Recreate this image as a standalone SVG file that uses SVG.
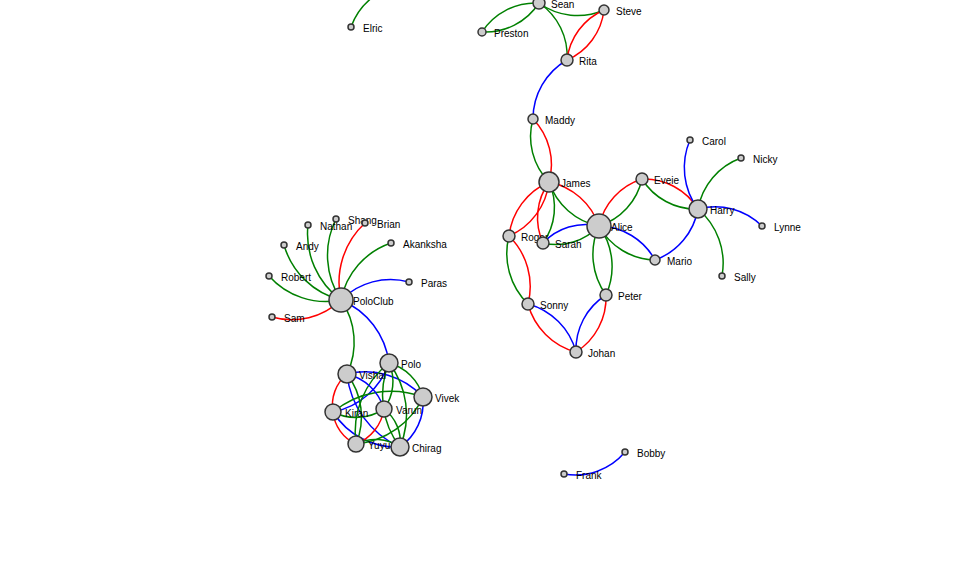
<svg xmlns="http://www.w3.org/2000/svg" width="962" height="583" viewBox="0 0 962 583">
<style>
.l{fill:none;stroke-width:1.5}
.g{stroke:green}.r{stroke:red}.b{stroke:blue}
.n circle{fill:#ccc;stroke:#333;stroke-width:1.5}
.n text{font-family:"Liberation Sans",Arial,sans-serif;font-size:10px;fill:#000}
</style>
<rect width="962" height="583" fill="#fff"/>
<g id="links">
<path class="l g" d="M351,27A64.5,64.5 0 0,1 400,-15"/>
<path class="l g" d="M482,32A64,64 0 0,1 539,3"/>
<path class="l g" d="M539,3A64,64 0 0,1 482,32"/>
<path class="l g" d="M604,10A65.4,65.4 0 0,1 539,3"/>
<path class="l g" d="M539,3A63.5,63.5 0 0,1 567,60"/>
<path class="l r" d="M604,10A62.2,62.2 0 0,1 567,60"/>
<path class="l r" d="M567,60A62.2,62.2 0 0,1 604,10"/>
<path class="l b" d="M533,119A68.1,68.1 0 0,1 567,60"/>
<path class="l g" d="M549,182A65,65 0 0,1 533,119"/>
<path class="l r" d="M533,119A65,65 0 0,1 549,182"/>
<path class="l r" d="M549,182A66.6,66.6 0 0,1 599,226"/>
<path class="l g" d="M599,226A66.6,66.6 0 0,1 549,182"/>
<path class="l r" d="M509,236A67.2,67.2 0 0,1 549,182"/>
<path class="l r" d="M549,182A67.2,67.2 0 0,1 509,236"/>
<path class="l r" d="M543,243A61.3,61.3 0 0,1 549,182"/>
<path class="l g" d="M549,182A61.3,61.3 0 0,1 543,243"/>
<path class="l b" d="M543,243A58.5,58.5 0 0,1 599,226"/>
<path class="l g" d="M599,226A58.5,58.5 0 0,1 543,243"/>
<path class="l r" d="M599,226A63.7,63.7 0 0,1 642,179"/>
<path class="l g" d="M642,179A63.7,63.7 0 0,1 599,226"/>
<path class="l r" d="M642,179A63.5,63.5 0 0,1 698,209"/>
<path class="l g" d="M698,209A63.5,63.5 0 0,1 642,179"/>
<path class="l b" d="M599,226A65.5,65.5 0 0,1 655,260"/>
<path class="l g" d="M655,260A65.5,65.5 0 0,1 599,226"/>
<path class="l b" d="M698,209A66.7,66.7 0 0,1 655,260"/>
<path class="l g" d="M599,226A69.4,69.4 0 0,1 606,295"/>
<path class="l g" d="M606,295A69.4,69.4 0 0,1 599,226"/>
<path class="l b" d="M576,352A64.4,64.4 0 0,1 606,295"/>
<path class="l r" d="M606,295A64.4,64.4 0 0,1 576,352"/>
<path class="l b" d="M528,304A67.9,67.9 0 0,1 576,352"/>
<path class="l r" d="M576,352A67.9,67.9 0 0,1 528,304"/>
<path class="l g" d="M528,304A70.6,70.6 0 0,1 509,236"/>
<path class="l r" d="M509,236A70.6,70.6 0 0,1 528,304"/>
<path class="l b" d="M698,209A69.5,69.5 0 0,1 690,140"/>
<path class="l g" d="M698,209A66.7,66.7 0 0,1 741,158"/>
<path class="l b" d="M698,209A66.2,66.2 0 0,1 762,226"/>
<path class="l g" d="M698,209A71.2,71.2 0 0,1 722,276"/>
<path class="l b" d="M625,452A64.8,64.8 0 0,1 564,474"/>
<path class="l r" d="M341,300A71.1,71.1 0 0,1 272,317"/>
<path class="l g" d="M341,300A75.9,75.9 0 0,1 269,276"/>
<path class="l g" d="M341,300A79.2,79.2 0 0,1 284,245"/>
<path class="l g" d="M341,300A81.9,81.9 0 0,1 308,225"/>
<path class="l g" d="M341,300A81.2,81.2 0 0,1 336,219"/>
<path class="l r" d="M341,300A80.7,80.7 0 0,1 365,223"/>
<path class="l g" d="M341,300A75.8,75.8 0 0,1 391,243"/>
<path class="l b" d="M341,300A70.3,70.3 0 0,1 409,282"/>
<path class="l g" d="M341,300A74.2,74.2 0 0,1 347,374"/>
<path class="l b" d="M341,300A79.2,79.2 0 0,1 389,363"/>
<path class="l r" d="M333,412A40.5,40.5 0 0,1 347,374"/>
<path class="l r" d="M356,444A39.4,39.4 0 0,1 333,412"/>
<path class="l b" d="M347,374A79.4,79.4 0 0,1 423,397"/>
<path class="l b" d="M400,447A90.2,90.2 0 0,1 347,374"/>
<path class="l b" d="M389,363A74.4,74.4 0 0,1 333,412"/>
<path class="l b" d="M400,447A75.6,75.6 0 0,1 333,412"/>
<path class="l b" d="M423,397A55,55 0 0,1 400,447"/>
<path class="l g" d="M389,363A48.1,48.1 0 0,1 423,397"/>
<path class="l g" d="M389,363A84.7,84.7 0 0,1 400,447"/>
<path class="l g" d="M400,447A84.7,84.7 0 0,1 389,363"/>
<path class="l g" d="M389,363A46.3,46.3 0 0,1 384,409"/>
<path class="l g" d="M356,444A87.5,87.5 0 0,1 389,363"/>
<path class="l g" d="M347,374A70.6,70.6 0 0,1 356,444"/>
<path class="l g" d="M384,409A51.1,51.1 0 0,1 333,412"/>
<path class="l g" d="M333,412A91.2,91.2 0 0,1 423,397"/>
<path class="l g" d="M384,409A41.2,41.2 0 0,1 400,447"/>
<path class="l r" d="M384,409A44.8,44.8 0 0,1 356,444"/>
<path class="l g" d="M356,444A44.1,44.1 0 0,1 400,447"/>
<path class="l b" d="M347,374A50.9,50.9 0 0,1 384,409"/>
<path class="l g" d="M423,397A81.8,81.8 0 0,1 356,444"/>
</g>
<g id="nodes">
<g class="n" id="n-elric"><circle cx="351" cy="27" r="3"/><text x="363" y="31.5">Elric</text></g>
<g class="n" id="n-sean"><circle cx="539" cy="3" r="6"/><text x="551" y="7.5">Sean</text></g>
<g class="n" id="n-steve"><circle cx="604" cy="10" r="5"/><text x="616" y="14.5">Steve</text></g>
<g class="n" id="n-preston"><circle cx="482" cy="32" r="4"/><text x="494" y="36.5">Preston</text></g>
<g class="n" id="n-rita"><circle cx="567" cy="60" r="6"/><text x="579" y="64.5">Rita</text></g>
<g class="n" id="n-maddy"><circle cx="533" cy="119" r="5"/><text x="545" y="123.5">Maddy</text></g>
<g class="n" id="n-james"><circle cx="549" cy="182" r="10"/><text x="561" y="186.5">James</text></g>
<g class="n" id="n-roger"><circle cx="509" cy="236" r="6"/><text x="521" y="240.5">Roger</text></g>
<g class="n" id="n-sarah"><circle cx="543" cy="243" r="6"/><text x="555" y="247.5">Sarah</text></g>
<g class="n" id="n-alice"><circle cx="599" cy="226" r="12"/><text x="611" y="230.5">Alice</text></g>
<g class="n" id="n-eveie"><circle cx="642" cy="179" r="6"/><text x="654" y="183.5">Eveie</text></g>
<g class="n" id="n-harry"><circle cx="698" cy="209" r="9"/><text x="710" y="213.5">Harry</text></g>
<g class="n" id="n-mario"><circle cx="655" cy="260" r="5"/><text x="667" y="264.5">Mario</text></g>
<g class="n" id="n-peter"><circle cx="606" cy="295" r="6"/><text x="618" y="299.5">Peter</text></g>
<g class="n" id="n-sonny"><circle cx="528" cy="304" r="6"/><text x="540" y="308.5">Sonny</text></g>
<g class="n" id="n-johan"><circle cx="576" cy="352" r="6"/><text x="588" y="356.5">Johan</text></g>
<g class="n" id="n-carol"><circle cx="690" cy="140" r="3"/><text x="702" y="144.5">Carol</text></g>
<g class="n" id="n-nicky"><circle cx="741" cy="158" r="3"/><text x="753" y="162.5">Nicky</text></g>
<g class="n" id="n-lynne"><circle cx="762" cy="226" r="3"/><text x="774" y="230.5">Lynne</text></g>
<g class="n" id="n-sally"><circle cx="722" cy="276" r="3"/><text x="734" y="280.5">Sally</text></g>
<g class="n" id="n-bobby"><circle cx="625" cy="452" r="3"/><text x="637" y="456.5">Bobby</text></g>
<g class="n" id="n-frank"><circle cx="564" cy="474" r="3"/><text x="576" y="478.5">Frank</text></g>
<g class="n" id="n-sam"><circle cx="272" cy="317" r="3"/><text x="284" y="321.5">Sam</text></g>
<g class="n" id="n-robert"><circle cx="269" cy="276" r="3"/><text x="281" y="280.5">Robert</text></g>
<g class="n" id="n-andy"><circle cx="284" cy="245" r="3"/><text x="296" y="249.5">Andy</text></g>
<g class="n" id="n-nathan"><circle cx="308" cy="225" r="3"/><text x="320" y="229.5">Nathan</text></g>
<g class="n" id="n-shang"><circle cx="336" cy="219" r="3"/><text x="348" y="223.5">Shang</text></g>
<g class="n" id="n-brian"><circle cx="365" cy="223" r="3"/><text x="377" y="227.5">Brian</text></g>
<g class="n" id="n-akanksha"><circle cx="391" cy="243" r="3"/><text x="403" y="247.5">Akanksha</text></g>
<g class="n" id="n-paras"><circle cx="409" cy="282" r="3"/><text x="421" y="286.5">Paras</text></g>
<g class="n" id="n-poloclub"><circle cx="341" cy="300" r="12"/><text x="353" y="304.5">PoloClub</text></g>
<g class="n" id="n-polo"><circle cx="389" cy="363" r="9"/><text x="401" y="367.5">Polo</text></g>
<g class="n" id="n-vishal"><circle cx="347" cy="374" r="9"/><text x="359" y="378.5">Vishal</text></g>
<g class="n" id="n-vivek"><circle cx="423" cy="397" r="9"/><text x="435" y="401.5">Vivek</text></g>
<g class="n" id="n-kiran"><circle cx="333" cy="412" r="8"/><text x="345" y="416.5">Kiran</text></g>
<g class="n" id="n-varun"><circle cx="384" cy="409" r="8"/><text x="396" y="413.5">Varun</text></g>
<g class="n" id="n-yuyu"><circle cx="356" cy="444" r="8"/><text x="368" y="448.5">Yuyu</text></g>
<g class="n" id="n-chirag"><circle cx="400" cy="447" r="9"/><text x="412" y="451.5">Chirag</text></g>
</g>
</svg>
